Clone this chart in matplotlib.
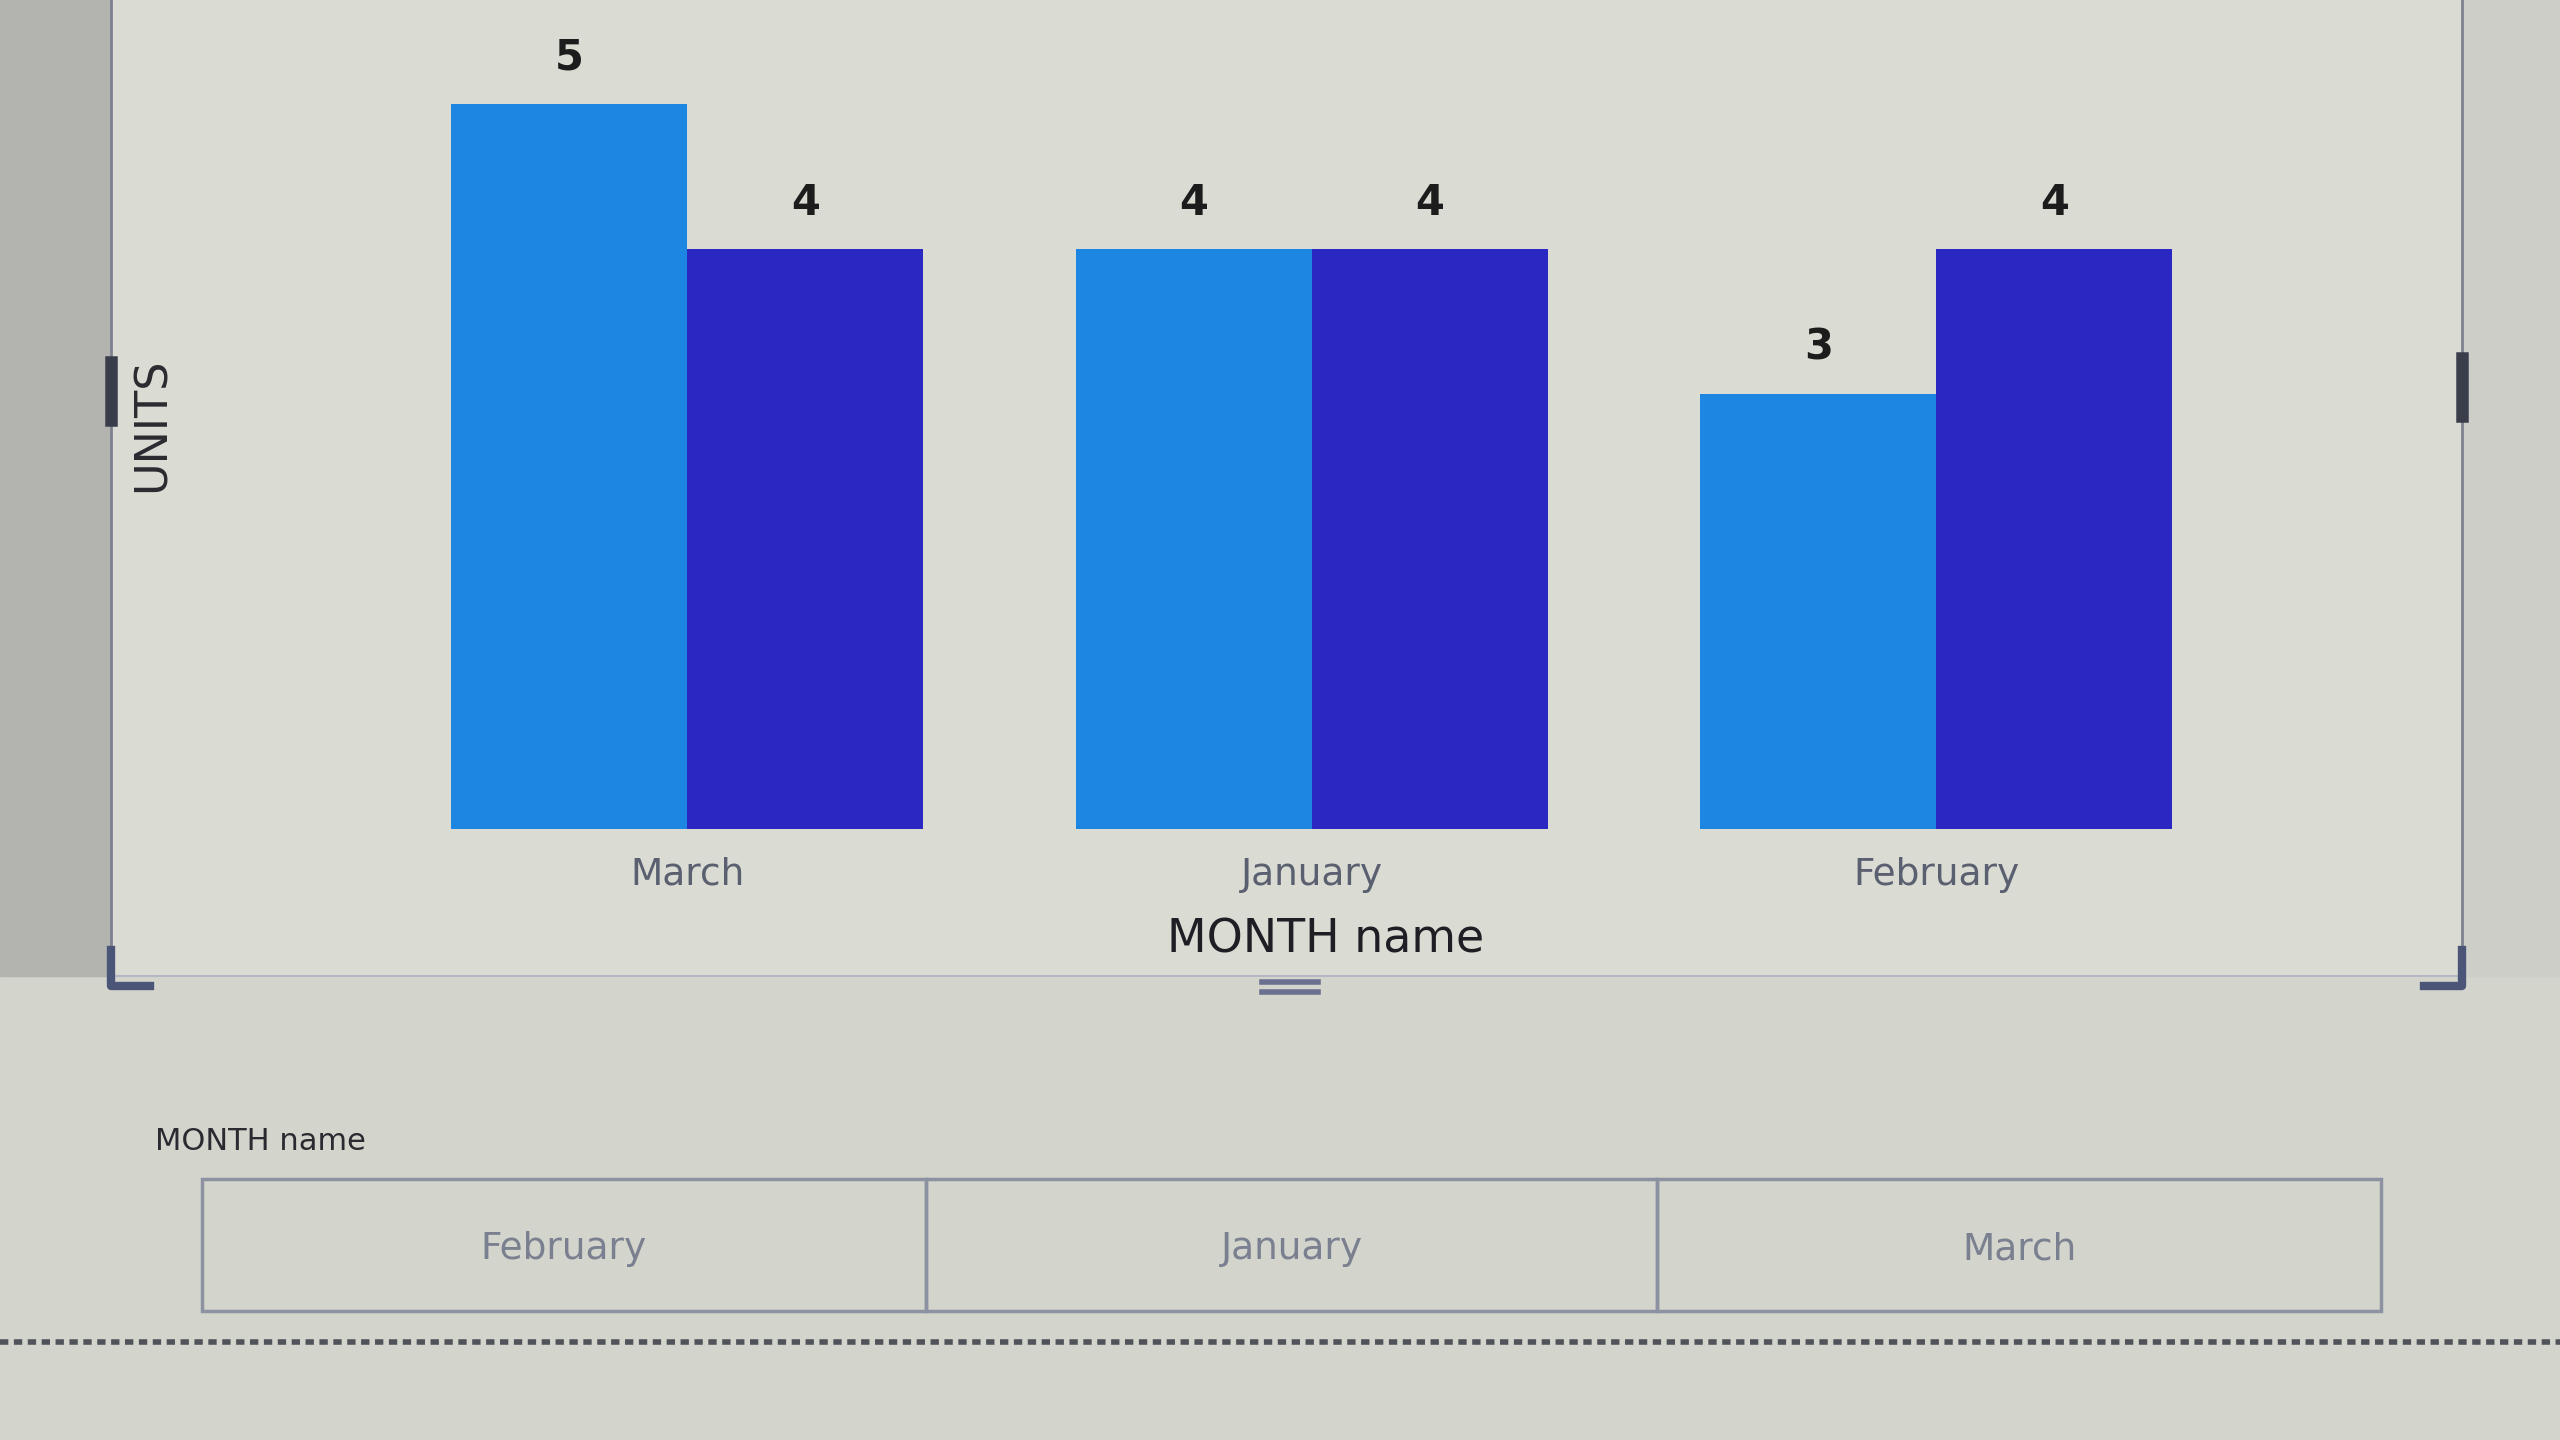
import matplotlib.pyplot as plt
import numpy as np
from matplotlib.patches import Rectangle
from matplotlib.lines import Line2D

# data
months = ['March', 'January', 'February']
units_a = [5, 4, 3]
units_b = [4, 4, 4]
slicer_items = ['February', 'January', 'March']

W, H = 2560, 1440


def fx(px):
    return px / W


def fy(py):
    return 1 - py / H


fig = plt.figure(figsize=(25.6, 14.4), dpi=100)
fig.patch.set_facecolor('#d3d4cc')

# screen / panel background
fig.add_artist(Rectangle((0, fy(976)), fx(111), 1 - fy(976) + 0.01,
                         transform=fig.transFigure, color='#b3b4af', zorder=0))
fig.add_artist(Rectangle((fx(111), fy(976)), fx(2462 - 111), 1 - fy(976) + 0.01,
                         transform=fig.transFigure, color='#dadbd3', zorder=0))
fig.add_artist(Rectangle((fx(2462), fy(976)), fx(98), 1 - fy(976) + 0.01,
                         transform=fig.transFigure, color='#cdcec7', zorder=0))

# panel borders
for x in (111, 2462):
    fig.add_artist(Line2D([fx(x), fx(x)], [fy(0), fy(976)], transform=fig.transFigure,
                          color='#7d8190', lw=2))
fig.add_artist(Line2D([fx(111), fx(2462)], [fy(976), fy(976)], transform=fig.transFigure,
                      color='#b4b8c4', lw=1.5))

# resize handles
fig.add_artist(Line2D([fx(111), fx(111)], [fy(362), fy(420)], transform=fig.transFigure,
                      color='#3a3d4a', lw=9))
fig.add_artist(Line2D([fx(2462), fx(2462)], [fy(358), fy(416)], transform=fig.transFigure,
                      color='#3a3d4a', lw=9))
fig.add_artist(Line2D([fx(1262), fx(1318)], [fy(982), fy(982)], transform=fig.transFigure,
                      color='#6a7090', lw=4))
fig.add_artist(Line2D([fx(1262), fx(1318)], [fy(992), fy(992)], transform=fig.transFigure,
                      color='#6a7090', lw=4))

# corner marks
fig.add_artist(Line2D([fx(111), fx(111), fx(150)], [fy(950), fy(986), fy(986)],
                      transform=fig.transFigure, color='#4a5577', lw=6))
fig.add_artist(Line2D([fx(2424), fx(2462), fx(2462)], [fy(986), fy(986), fy(950)],
                      transform=fig.transFigure, color='#4a5577', lw=6))

# bar chart
ax = fig.add_axes([fx(375), fy(829), fx(1873.5), 797.5 / H])
ax.set_facecolor('none')
x = np.arange(len(months))
w = 0.378
bars_a = ax.bar(x - w / 2, units_a, w, color='#1d86e2', linewidth=0)
bars_b = ax.bar(x + w / 2, units_b, w, color='#2a27c2', linewidth=0)
for b in (bars_a, bars_b):
    ax.bar_label(b, padding=18, fontsize=30, fontweight='bold', color='#1c1c1c')
ax.set_xlim(-0.5, 2.5)
ax.set_ylim(0, 5.5)
ax.set_yticks([])
ax.set_xticks(x)
ax.set_xticklabels(months, fontsize=27, color='#5a6070')
ax.tick_params(axis='x', length=0, pad=20)
for s in ax.spines.values():
    s.set_visible(False)

fig.text(fx(1326), fy(940), 'MONTH name', fontsize=33, color='#1e1e24', ha='center', va='center')
fig.text(fx(152), fy(425), 'UNITS', fontsize=32, color='#2a2a30', rotation=90,
         ha='center', va='center')

# slicer
fig.text(fx(155), fy(1141), 'MONTH name', fontsize=22, color='#2a2a30', ha='left', va='center')
edges = [202, 926, 1657, 2381]
for i, name in enumerate(slicer_items):
    x0, x1 = edges[i], edges[i + 1]
    fig.add_artist(Rectangle((fx(x0), fy(1311)), fx(x1 - x0), (1311 - 1179) / H,
                             transform=fig.transFigure, facecolor='none',
                             edgecolor='#8c92a2', lw=2.5))
    fig.text(fx((x0 + x1) / 2), fy(1249), name, fontsize=27, color='#7a8090',
             ha='center', va='center')

# dashed line at bottom
fig.add_artist(Line2D([0, 1], [fy(1342), fy(1342)], transform=fig.transFigure,
                      color='#50535a', lw=4, linestyle=(0, (1.5, 1))))

fig.savefig('out.png', dpi=100, facecolor=fig.get_facecolor())
